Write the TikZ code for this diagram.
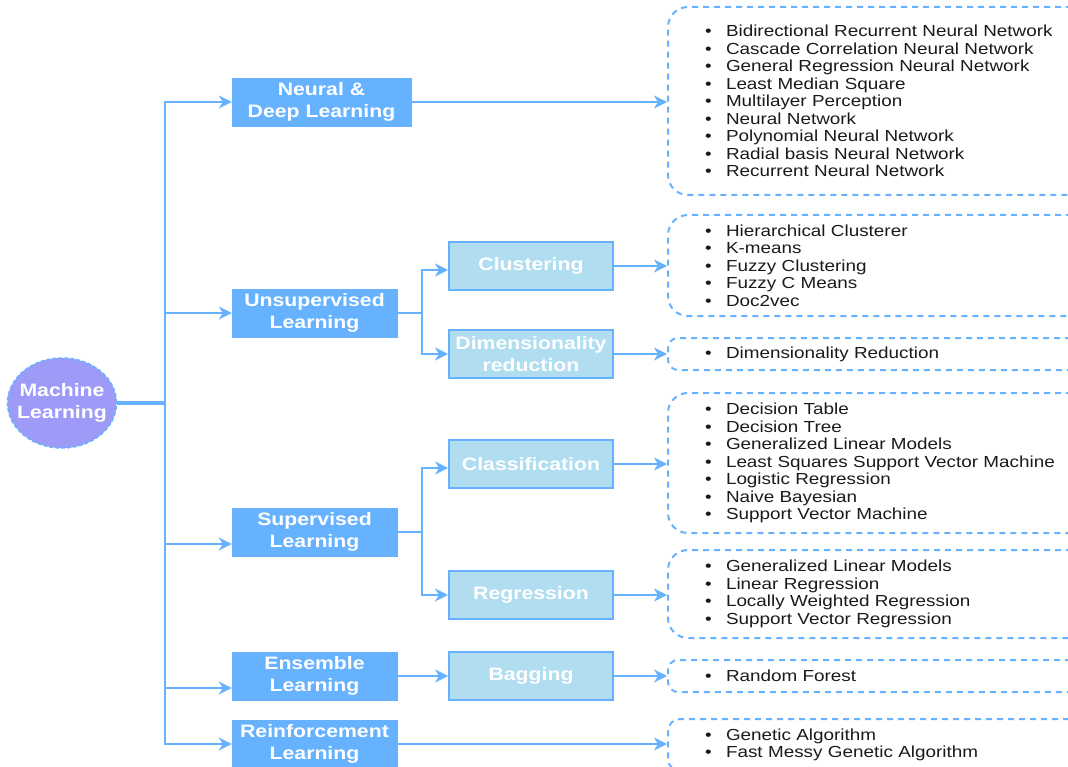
\documentclass[tikz,border=0pt]{standalone}
\usepackage{fontspec}
\setmainfont{Liberation Sans}[FakeStretch=1.18]
\usetikzlibrary{arrows.meta,shapes.geometric}
\definecolor{mlblue}{HTML}{66B2FF}
\definecolor{mlpale}{HTML}{B1DDF0}
\definecolor{mlviolet}{HTML}{9D9BF7}
\definecolor{mltext}{HTML}{1A1A1A}
\newcommand{\li}{\makebox[25pt][l]{\hspace{4pt}\textbullet}}
\begin{document}
\begin{tikzpicture}[x=1pt,y=-1pt,
    boxfont/.style={font=\bfseries\fontsize{18}{22}\selectfont},
    mainbox/.style={boxfont, fill=mlblue, draw=mlblue, text=white, align=center, minimum width=165pt, minimum height=48pt, inner sep=0pt},
    subbox/.style={boxfont, fill=mlpale, draw=mlblue, line width=2pt, text=white, align=center, minimum width=164pt, minimum height=48pt, inner sep=0pt},
    listbox/.style={anchor=west, draw=mlblue, line width=2pt, dash pattern=on 6pt off 5pt, rounded corners=20pt, text width=380pt, inner xsep=33pt, inner ysep=0pt, align=left, text=mltext, font=\fontsize{16}{17.5}\selectfont},
    link/.style={draw=mlblue, line width=2pt},
    arr/.style={link, -{Stealth[length=13pt,width=13pt,inset=4pt]}}]
    \useasboundingbox (0,0) rectangle (1068,767);
    \clip (0,0) rectangle (1068,767);
    \node[ellipse, boxfont, fill=mlviolet, draw=mlblue, line width=1.5pt, dash pattern=on 4pt off 2pt, text=white, align=center, minimum width=109pt, minimum height=90pt, inner xsep=-7pt, inner ysep=0pt] (ml) at (62,403) {Machine\\Learning};
    \node[mainbox, minimum width=179pt] (neural) at (321.5,102) {Neural \&\\Deep Learning};
    \node[mainbox] (unsup) at (314.5,313) {Unsupervised\\Learning};
    \node[mainbox] (sup) at (314.5,532) {Supervised\\Learning};
    \node[mainbox] (ens) at (314.5,676) {Ensemble\\Learning};
    \node[mainbox] (reinf) at (314.5,744) {Reinforcement\\Learning};
    \node[subbox] (clus) at (531,266) {Clustering};
    \node[subbox] (dimred) at (531,354) {Dimensionality\\reduction};
    \node[subbox] (classif) at (531,464) {Classification};
    \node[subbox] (regr) at (531,595) {Regression};
    \node[subbox] (bag) at (531,676) {Bagging};
    \node[listbox, minimum height=188pt] (lneural) at (667,101) {\li Bidirectional Recurrent Neural Network\\\li Cascade Correlation Neural Network\\\li General Regression Neural Network\\\li Least Median Square\\\li Multilayer Perception\\\li Neural Network\\\li Polynomial Neural Network\\\li Radial basis Neural Network\\\li Recurrent Neural Network};
    \node[listbox, minimum height=101pt] (lclus) at (667,265.5) {\li Hierarchical Clusterer\\\li K-means\\\li Fuzzy Clustering\\\li Fuzzy C Means\\\li Doc2vec};
    \node[listbox, minimum height=32pt, rounded corners=10pt] (ldim) at (667,354) {\li Dimensionality Reduction};
    \node[listbox, minimum height=140pt] (lclass) at (667,463) {\li Decision Table\\\li Decision Tree\\\li Generalized Linear Models\\\li Least Squares Support Vector Machine\\\li Logistic Regression\\\li Naive Bayesian\\\li Support Vector Machine};
    \node[listbox, minimum height=88pt] (lregr) at (667,594) {\li Generalized Linear Models\\\li Linear Regression\\\li Locally Weighted Regression\\\li Support Vector Regression};
    \node[listbox, minimum height=32pt, rounded corners=10pt] (lbag) at (667,676) {\li Random Forest};
    \node[listbox, minimum height=52pt, rounded corners=12pt] (lreinf) at (667,745) {\li Genetic Algorithm\\\li Fast Messy Genetic Algorithm};
    \coordinate (hub) at (165,403);
    \coordinate (ujoin) at (422,313);
    \coordinate (sjoin) at (422,532);
    \draw[link, line width=4pt] (ml.east) -- (hub);
    \draw[arr] (hub) |- (neural.west);
    \draw[arr] (hub) |- (unsup.west);
    \draw[arr] (hub) |- ([yshift=-12pt]sup.west);
    \draw[arr] (hub) |- ([yshift=-12pt]ens.west);
    \draw[arr] (hub) |- (reinf.west);
    \draw[link] (unsup.east) -- (ujoin);
    \draw[arr] (ujoin) |- ([yshift=-4pt]clus.west);
    \draw[arr] (ujoin) |- (dimred.west);
    \draw[link] (sup.east) -- (sjoin);
    \draw[arr] (sjoin) |- ([yshift=-4pt]classif.west);
    \draw[arr] (sjoin) |- (regr.west);
    \draw[arr] (ens) -- (bag);
    \draw[arr] (neural.east) -- (neural.east -| lneural.west);
    \draw[arr] (clus.east) -- (clus.east -| lclus.west);
    \draw[arr] (dimred.east) -- (dimred.east -| ldim.west);
    \draw[arr] (classif.east) -- (classif.east -| lclass.west);
    \draw[arr] (regr.east) -- (regr.east -| lregr.west);
    \draw[arr] (bag.east) -- (bag.east -| lbag.west);
    \draw[arr] (reinf.east) -- (reinf.east -| lreinf.west);
\end{tikzpicture}
\end{document}
